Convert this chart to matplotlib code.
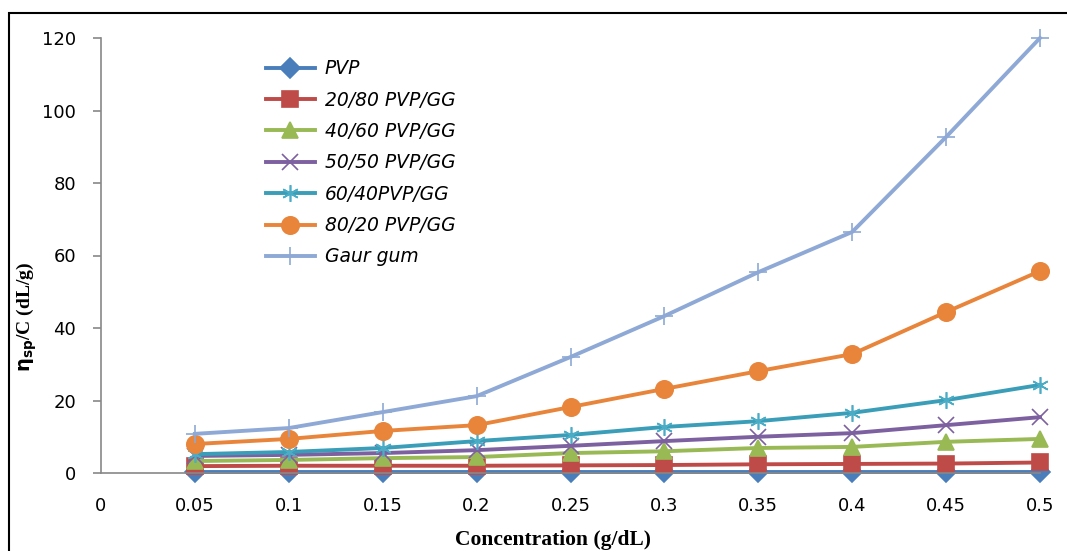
import matplotlib
matplotlib.use("Agg")
import matplotlib.pyplot as plt
from matplotlib.patches import Rectangle

concentration = [0.05, 0.10, 0.15, 0.20, 0.25, 0.30, 0.35, 0.40, 0.45, 0.50]
x_tick_labels = ["0", "0.05", "0.1", "0.15", "0.2", "0.25", "0.3", "0.35", "0.4", "0.45", "0.5"]
x_ticks = [0, 0.05, 0.1, 0.15, 0.2, 0.25, 0.3, 0.35, 0.4, 0.45, 0.5]

pvp = [0.3, 0.3, 0.3, 0.3, 0.3, 0.3, 0.3, 0.3, 0.3, 0.3]
pvp_gg_20_80 = [1.9, 2.0, 2.0, 2.0, 2.1, 2.2, 2.4, 2.5, 2.6, 2.9]
pvp_gg_40_60 = [3.3, 3.6, 4.1, 4.4, 5.5, 6.0, 6.9, 7.2, 8.6, 9.4]
pvp_gg_50_50 = [4.7, 5.0, 5.5, 6.3, 7.5, 8.8, 10.0, 11.0, 13.2, 15.4]
pvp_gg_60_40 = [5.2, 5.8, 6.9, 8.8, 10.5, 12.7, 14.3, 16.6, 20.1, 24.3]
pvp_gg_80_20 = [8.0, 9.4, 11.6, 13.2, 18.2, 23.2, 28.1, 32.8, 44.4, 55.7]
gaur_gum = [10.8, 12.4, 16.8, 21.2, 32.0, 43.3, 55.4, 66.5, 92.7, 120.0]

series_names = ["PVP", "20/80 PVP/GG", "40/60 PVP/GG", "50/50 PVP/GG",
                "60/40PVP/GG", "80/20 PVP/GG", "Gaur gum"]

W, H = 1067, 551
fig = plt.figure(figsize=(W / 100, H / 100), dpi=100)
fig.patches.append(Rectangle((9 / W, -0.1), 1.2, 1 - 13 / H + 0.1,
                             transform=fig.transFigure, fill=False,
                             edgecolor="black", linewidth=1.5))

left, right, top, bottom = 101, 1040, 38, 473
ax = fig.add_axes([left / W, 1 - bottom / H, (right - left) / W, (bottom - top) / H])

styles = [
    (pvp, "#4A7EBB", "#4A7EBB", "D", 10),
    (pvp_gg_20_80, "#BE4B48", "#BE4B48", "s", 11),
    (pvp_gg_40_60, "#98B954", "#98B954", "^", 12),
    (pvp_gg_50_50, "#7D60A0", "#7D60A0", "x", 11),
    (pvp_gg_60_40, "#3A9EB8", "#4BACC6", (6, 2, 0), 12),
    (pvp_gg_80_20, "#E8853A", "#E8853A", "o", 12.5),
    (gaur_gum, "#8EA9D5", "#8EA9D5", "+", 13),
]

for (vals, lc, mc, mk, ms), name in zip(styles, series_names):
    ax.plot(concentration, vals, color=lc, linewidth=2.8, marker=mk,
            markersize=ms, markerfacecolor=mc, markeredgecolor=mc,
            markeredgewidth=1.2, label=name, clip_on=False)

ax.set_xlim(0, 0.5)
ax.set_ylim(0, 120)
ax.set_yticks([0, 20, 40, 60, 80, 100, 120])
ax.set_xticks(x_ticks)
ax.set_xticklabels(x_tick_labels)

for s in ["top", "right"]:
    ax.spines[s].set_visible(False)
for s in ["left", "bottom"]:
    ax.spines[s].set_color("#888888")
    ax.spines[s].set_linewidth(1.2)
ax.tick_params(axis="y", colors="#888888", length=6, width=1.2, labelcolor="black",
               labelsize=13, pad=12)
ax.tick_params(axis="x", length=0, labelcolor="black", labelsize=13, pad=17)

plt.rcParams["mathtext.fontset"] = "stix"
ax.set_xlabel("Concentration (g/dL)", family="Liberation Serif", fontweight="bold",
              fontsize=15.5)
ax.xaxis.set_label_coords((553 - left) / (right - left), -(540 - bottom) / (bottom - top),
                          transform=ax.transAxes)
ax.xaxis.label.set_va("center")
ax.set_ylabel(r"$\mathbf{\eta_{sp}}$/C (dL/g)", family="Liberation Serif",
              fontweight="bold", fontsize=14)
ax.yaxis.set_label_coords(-(101 - 27) / (right - left), (bottom - 317) / (bottom - top),
                          transform=ax.transAxes)
ax.yaxis.label.set_va("center")

leg = ax.legend(loc="upper left", bbox_to_anchor=(148 / (right - left), 0.99),
                frameon=False, prop={"style": "italic", "size": 13.5},
                handlelength=2.6, handletextpad=0.55, labelspacing=0.66)

fig.savefig("out.png", dpi=100)
